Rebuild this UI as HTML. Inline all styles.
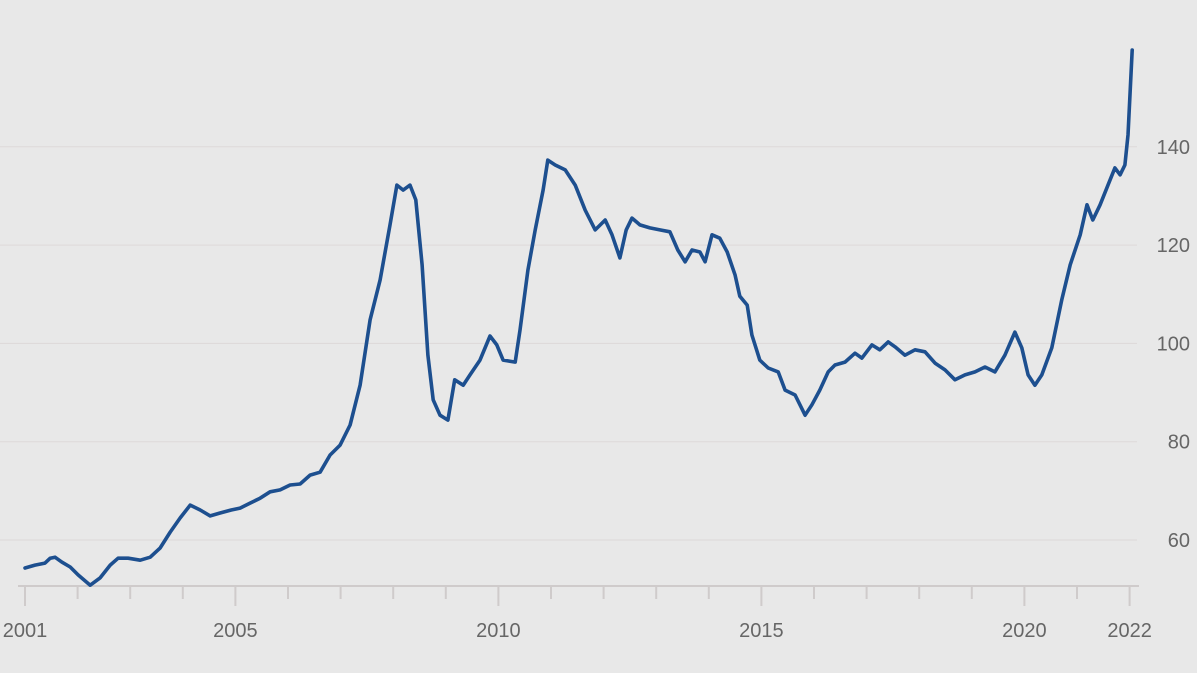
<!DOCTYPE html>
<html><head><meta charset="utf-8"><style>
html,body{margin:0;padding:0;background:#e8e8e8;}
svg{display:block;font-family:"Liberation Sans",sans-serif;}
</style></head><body>
<svg id="chart" width="1197" height="673" viewBox="0 0 1197 673">
<rect width="1197" height="673" fill="#e8e8e8"/>
<g id="grid"></g><g id="xaxis"></g><g id="series"></g>
</svg>
<script>
const years=[2001.00,2001.19,2001.38,2001.48,2001.57,2001.70,2001.86,2002.01,2002.24,2002.43,2002.62,2002.77,2002.96,2003.19,2003.38,2003.57,2003.76,2003.95,2004.14,2004.33,2004.52,2004.71,2004.92,2005.09,2005.28,2005.47,2005.66,2005.85,2006.04,2006.23,2006.42,2006.61,2006.80,2006.99,2007.18,2007.37,2007.56,2007.75,2007.94,2008.07,2008.19,2008.32,2008.43,2008.55,2008.66,2008.76,2008.89,2009.04,2009.17,2009.33,2009.46,2009.65,2009.84,2009.97,2010.09,2010.32,2010.41,2010.56,2010.70,2010.85,2010.94,2011.08,2011.27,2011.46,2011.65,2011.84,2012.03,2012.16,2012.31,2012.43,2012.54,2012.69,2012.88,2013.07,2013.26,2013.41,2013.55,2013.68,2013.83,2013.93,2014.06,2014.21,2014.35,2014.50,2014.59,2014.73,2014.82,2014.97,2015.13,2015.32,2015.45,2015.64,2015.83,2015.96,2016.11,2016.27,2016.40,2016.59,2016.78,2016.91,2017.10,2017.25,2017.41,2017.54,2017.73,2017.92,2018.11,2018.30,2018.49,2018.68,2018.87,2019.06,2019.25,2019.44,2019.63,2019.82,2019.95,2020.07,2020.20,2020.33,2020.52,2020.71,2020.87,2021.06,2021.19,2021.30,2021.44,2021.59,2021.72,2021.82,2021.91,2021.97,2022.05];
const values=[54.3,54.9,55.3,56.3,56.5,55.5,54.5,52.9,50.8,52.3,54.9,56.3,56.3,55.9,56.5,58.4,61.6,64.5,67.1,66.1,64.9,65.5,66.1,66.5,67.5,68.5,69.8,70.2,71.2,71.4,73.2,73.8,77.3,79.3,83.4,91.5,104.8,112.9,124.1,132.2,131.2,132.2,129.2,116.0,97.6,88.5,85.4,84.4,92.6,91.5,93.6,96.6,101.5,99.7,96.6,96.2,102.7,114.9,123.1,131.2,137.3,136.3,135.3,132.2,127.1,123.1,125.1,122.1,117.4,123.1,125.5,124.1,123.5,123.1,122.7,119.0,116.6,119.0,118.6,116.6,122.1,121.4,118.6,113.9,109.6,107.8,101.7,96.6,95.0,94.2,90.5,89.5,85.4,87.5,90.5,94.2,95.6,96.2,98.0,97.0,99.7,98.7,100.3,99.3,97.6,98.7,98.3,96.0,94.6,92.6,93.6,94.2,95.2,94.2,97.6,102.3,99.1,93.6,91.5,93.6,99.1,108.8,116.0,122.1,128.2,125.1,128.2,132.2,135.7,134.3,136.3,142.4,159.7];
const yTicks=[60,80,100,120,140];
const xTickYears=[2001,2002,2003,2004,2005,2006,2007,2008,2009,2010,2011,2012,2013,2014,2015,2016,2017,2018,2019,2020,2021,2022];
const xLabels=[2001,2005,2010,2015,2020,2022];
const NS="http://www.w3.org/2000/svg";
function x(t){return 25+(t-2001)*52.6;}
function y(v){return 540-(v-60)*4.915;}
function mk(tag,attrs,parent){const e=document.createElementNS(NS,tag);for(const k in attrs)e.setAttribute(k,attrs[k]);parent.appendChild(e);return e;}
const grid=document.getElementById('grid');
yTicks.forEach(v=>{
  const l=mk('line',{x1:0,x2:1137,y1:y(v),y2:y(v),stroke:'#ddd9d9','stroke-width':1},grid);
  
  
  const t=mk('text',{x:1190,y:y(v)+7,'text-anchor':'end','font-size':20,fill:'#666'},grid);
  t.textContent=v;
  
  
});
const xa=document.getElementById('xaxis');
const base=mk('line',{x1:18,x2:1139,y1:586,y2:586,stroke:'#cfcbcb','stroke-width':2},xa);


xTickYears.forEach(yr=>{
  const major=xLabels.includes(yr);
  const tk=mk('line',{x1:x(yr),x2:x(yr),y1:586,y2:major?606:599,stroke:'#cfcbcb','stroke-width':2},xa);
  
  
});
xLabels.forEach(yr=>{
  const t=mk('text',{x:x(yr),y:637,'text-anchor':'middle','font-size':20,fill:'#666'},xa);
  t.textContent=yr;
  
  
});
const d=years.map((t,i)=>(i?'L':'M')+x(t).toFixed(1)+','+y(values[i]).toFixed(1)).join(' ');
const p=mk('path',{d:d,fill:'none',stroke:'#1d4f8f','stroke-width':3.6,'stroke-linejoin':'round','stroke-linecap':'round'},document.getElementById('series'));


</script>
</body></html>
